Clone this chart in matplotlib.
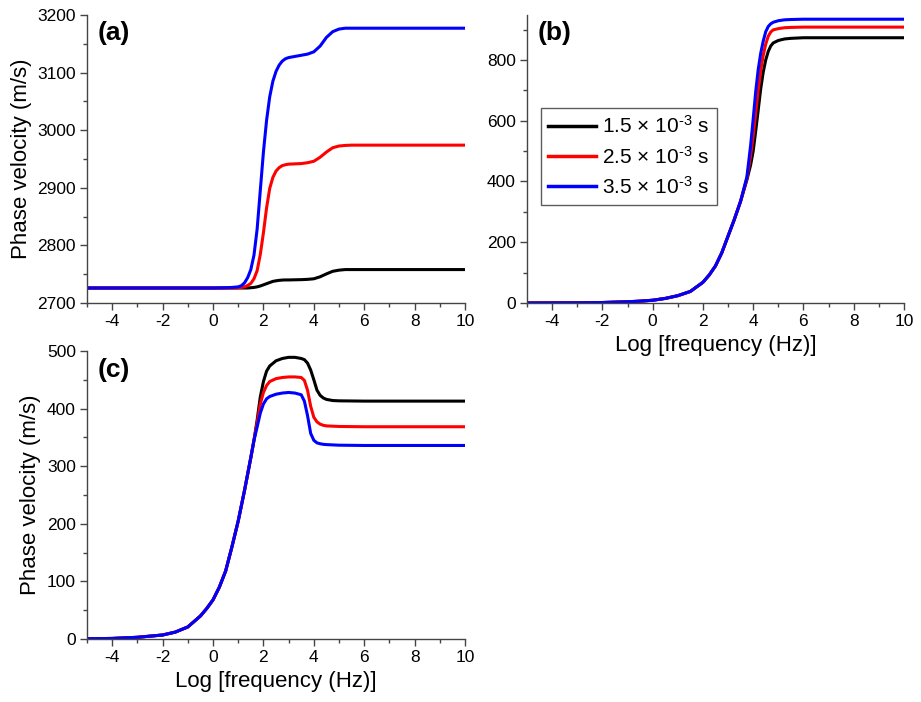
import matplotlib
matplotlib.use('Agg')
import matplotlib.pyplot as plt
from matplotlib.ticker import MultipleLocator

plt.rcParams['font.family'] = ['Liberation Sans', 'DejaVu Sans']
plt.rcParams['mathtext.fontset'] = 'custom'
plt.rcParams['mathtext.rm'] = 'Liberation Sans'
plt.rcParams['mathtext.it'] = 'Liberation Sans:italic'
plt.rcParams['axes.unicode_minus'] = False

# Legende
labels = [r'1.5 $\times$ 10$^{\text{-3}}$ s',
          r'2.5 $\times$ 10$^{\text{-3}}$ s',
          r'3.5 $\times$ 10$^{\text{-3}}$ s']
colors = ['black', 'red', 'blue']

# Panel (a)
xa = [-5, 0, 0.5, 0.75, 1.0, 1.125, 1.25, 1.375, 1.5, 1.625, 1.75, 1.875, 2.0, 2.125,
      2.25, 2.375, 2.5, 2.625, 2.75, 2.875, 3.0, 3.5, 3.75, 4.0, 4.25, 4.5, 4.75,
      5.0, 5.25, 5.5, 6, 10]
a_black = [2726, 2726, 2726, 2726, 2726, 2726, 2726, 2726, 2726.5, 2727, 2728, 2729.5,
           2731.5, 2733.5, 2735.5, 2737.5, 2738.5, 2739.3, 2739.8, 2740, 2740, 2740.5,
           2741, 2742, 2745.5, 2750.5, 2755, 2757, 2758, 2758, 2758, 2758]
a_red = [2726, 2726, 2726, 2726, 2726.5, 2727, 2728, 2730.5, 2734, 2742, 2756, 2784,
         2822, 2865, 2899, 2918, 2929, 2935, 2938.5, 2940, 2941, 2942, 2943.5, 2946,
         2953, 2962, 2969.5, 2972.5, 2973.5, 2974, 2974, 2974]
a_blue = [2726, 2726, 2726.5, 2727, 2728, 2730, 2735, 2744, 2758, 2783, 2828, 2895,
          2962, 3017, 3058, 3085, 3102, 3113, 3120, 3124, 3126, 3130, 3132, 3136,
          3146, 3161, 3171, 3175.5, 3177, 3177, 3177, 3177]

# Panel (b)
xb = [-5, -4, -3, -2, -1, -0.5, 0, 0.5, 1, 1.5, 2, 2.25, 2.5, 2.75, 3, 3.25, 3.5,
      3.75, 3.9, 4.0, 4.1, 4.2, 4.3, 4.4, 4.5, 4.6, 4.7, 4.8, 5.0, 5.25, 5.5, 6, 10]
b_low = [0, 0.2, 0.5, 1.5, 4, 6, 9, 15, 24, 38, 68, 92, 122, 165, 220, 275, 335]
b_black = b_low + [405, 455, 500, 565, 635, 705, 760, 800, 828, 846, 856, 864, 869, 871, 873, 873]
b_red = b_low + [410, 485, 550, 625, 700, 765, 815, 852, 878, 892, 899, 903, 906, 907, 908, 908]
b_blue = b_low + [415, 520, 605, 695, 768, 822, 862, 893, 910, 919, 924, 929, 932, 933, 934, 934]

# Panel (c)
xc = [-5, -4, -3, -2, -1.5, -1, -0.5, -0.25, 0, 0.25, 0.5, 0.75, 1.0, 1.25, 1.5, 1.625,
      1.75, 1.875, 2.0, 2.125, 2.25, 2.5, 2.75, 3.0, 3.25, 3.5, 3.625, 3.75, 3.875,
      4.0, 4.125, 4.25, 4.375, 4.5, 4.75, 5.0, 6, 10]
c_low = [0.5, 1, 3, 7, 12, 21, 40, 53, 68, 90, 118, 160, 205, 258, 315, 345]
c_black = c_low + [380, 420, 447, 465, 474, 483, 487, 489, 489, 487, 485, 479, 467,
                   450, 432, 423, 418.5, 416, 414, 413.5, 413, 413]
c_red = c_low + [375, 408, 428, 440, 447, 452, 454, 455, 455, 454, 449, 432, 404,
                 385, 377, 373, 371, 370, 369.5, 369, 368.5, 368.5]
c_blue = c_low + [368, 392, 408, 417, 421, 425, 427, 428, 427, 424, 413, 388, 357,
                  345, 340.5, 339, 338, 337.5, 337, 336.5, 336, 336]

fig = plt.figure(figsize=(9.21, 7.02), dpi=100)
ax_a = fig.add_axes([0.0945, 0.5684, 0.4104, 0.4103])
ax_b = fig.add_axes([0.5722, 0.5684, 0.4093, 0.4103])
ax_c = fig.add_axes([0.0945, 0.0897, 0.4104, 0.4103])


def style_axis(ax, ylim, ymajor, yminor, tag, tag_y):
    for s in ['top', 'right']:
        ax.spines[s].set_visible(False)
    for s in ['left', 'bottom']:
        ax.spines[s].set_color('#444444')
        ax.spines[s].set_linewidth(1.0)
    ax.set_xlim(-5, 10)
    ax.set_ylim(*ylim)
    ax.xaxis.set_major_locator(MultipleLocator(2))
    ax.xaxis.set_minor_locator(MultipleLocator(1))
    ax.yaxis.set_major_locator(MultipleLocator(ymajor))
    ax.yaxis.set_minor_locator(MultipleLocator(yminor))
    ax.tick_params(which='major', direction='out', length=5, width=1, color='#444444',
                   labelsize=12.5, pad=3)
    ax.tick_params(which='minor', direction='out', length=3, width=1, color='#444444')
    ax.text(0.028, tag_y, tag, transform=ax.transAxes, fontsize=19, fontweight='bold',
            ha='left', va='center')


lw = 2.2
for ys, c in zip([a_black, a_red, a_blue], colors):
    ax_a.plot(xa, ys, color=c, lw=lw)
style_axis(ax_a, (2700, 3200), 100, 50, '(a)', 0.937)
ax_a.set_ylabel('Phase velocity (m/s)', fontsize=16)

lines = []
for ys, c, lab in zip([b_black, b_red, b_blue], colors, labels):
    ln, = ax_b.plot(xb, ys, color=c, lw=lw, label=lab)
    lines.append(ln)
style_axis(ax_b, (0, 948), 200, 100, '(b)', 0.939)
ax_b.set_xlabel('Log [frequency (Hz)]', fontsize=16)
leg = ax_b.legend(handles=lines, loc='upper left', bbox_to_anchor=(0.037, 0.677),
                  fontsize=15, frameon=True, fancybox=False, edgecolor='#333333',
                  handlelength=2.3, handletextpad=0.3, borderpad=0.35, labelspacing=0.4,
                  borderaxespad=0)
leg.get_frame().set_linewidth(1.0)
for ln in leg.get_lines():
    ln.set_linewidth(2.5)

for ys, c in zip([c_black, c_red, c_blue], colors):
    ax_c.plot(xc, ys, color=c, lw=lw)
style_axis(ax_c, (0, 500), 100, 50, '(c)', 0.934)
ax_c.set_ylabel('Phase velocity (m/s)', fontsize=16)
ax_c.set_xlabel('Log [frequency (Hz)]', fontsize=16)

fig.savefig('out.png', dpi=100)
